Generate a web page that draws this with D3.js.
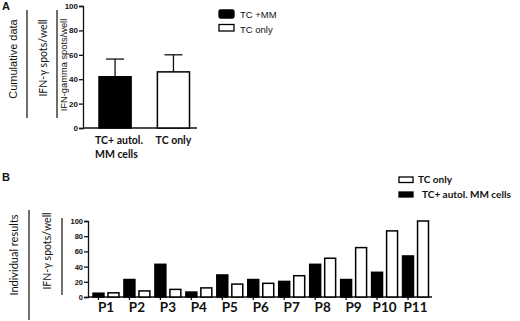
<!DOCTYPE html>
<html>
<head>
<meta charset="utf-8">
<script src="https://cdn.jsdelivr.net/npm/d3@7"></script>
<style>
  body { margin: 0; background: #fff; }
  svg { display: block; }
  text { fill: #111; }
</style>
</head>
<body>
<svg id="chart" width="520" height="321"></svg>
<script>
// Panel A - cumulative data
const cumCategories = ["TC+ autol.|MM cells", "TC only"];
const cumMeans = [42, 46];
const cumErrors = [14.5, 14];
const cumLegend = ["TC +MM", "TC only"];

// Panel B - individual results
const patients = ["P1", "P2", "P3", "P4", "P5", "P6", "P7", "P8", "P9", "P10", "P11"];
const tcMM = [5, 23, 43, 6.5, 29, 23, 20.5, 43, 23, 32.5, 54];
const tcOnly = [5.5, 8, 10, 12, 17, 18, 28, 51, 65, 87, 100];
const indivLegend = ["TC only", "TC+ autol. MM cells"];

const yTicks = [0, 20, 40, 60, 80, 100];

const svg = d3.select("#chart");
const sans = "'Liberation Sans', Arial, sans-serif";
const cal = "Lato, 'Open Sans', sans-serif";

// rotated label helper
function vlabel(x, y, txt, size, font, weight) {
    svg.append("text")
        .attr("transform", `translate(${x},${y}) rotate(-90)`)
        .attr("text-anchor", "middle")
        .attr("dominant-baseline", "central")
        .attr("font-family", font)
        .attr("font-size", size)
        .attr("font-weight", weight || "normal")
        .text(txt);
}
function vline(x, y1, y2, w) {
    svg.append("line")
        .attr("x1", x).attr("x2", x).attr("y1", y1).attr("y2", y2)
        .attr("stroke", "#222").attr("stroke-width", w || 1.3);
}

// ---------- A ----------
svg.append("text").attr("x", 2).attr("y", 10)
    .attr("font-family", sans).attr("font-weight", "bold").attr("font-size", 11)
    .text("A");

vlabel(13, 59, "Cumulative data", 11, sans);
vline(27, 10, 118);
vlabel(43, 58, "IFN-γ spots/well", 10.5, cal);
vline(57, 10, 118);
vlabel(64, 65, "IFN-gamma spots/well", 9.3, sans);

const yA = d3.scaleLinear().domain([0, 100]).range([128, 6]);
const xA = d3.scaleBand().domain(cumCategories).range([99, 189.5]).paddingInner(0.45);

const gA = svg.append("g");
gA.append("g")
    .attr("transform", "translate(83,0)")
    .call(d3.axisLeft(yA).tickValues(yTicks).tickSize(4).tickPadding(1))
    .call(g => g.selectAll("text").attr("font-family", sans).attr("font-size", 8).attr("font-weight", "bold"))
    .call(g => g.selectAll("path,line").attr("stroke", "#111").attr("stroke-width", 1.3));

gA.append("line")
    .attr("x1", 83).attr("x2", 197).attr("y1", yA(0)).attr("y2", yA(0))
    .attr("stroke", "#111").attr("stroke-width", 1.3);

// error bars
cumCategories.forEach((c, i) => {
    const cx = xA(c) + xA.bandwidth() / 2;
    gA.append("line")
        .attr("x1", cx).attr("x2", cx)
        .attr("y1", yA(cumMeans[i])).attr("y2", yA(cumMeans[i] + cumErrors[i]))
        .attr("stroke", "#111").attr("stroke-width", 1.3);
    gA.append("line")
        .attr("x1", cx - 9).attr("x2", cx + 9)
        .attr("y1", yA(cumMeans[i] + cumErrors[i])).attr("y2", yA(cumMeans[i] + cumErrors[i]))
        .attr("stroke", "#111").attr("stroke-width", 1.3);
});

gA.selectAll("rect.bar")
    .data(cumCategories)
    .enter()
    .append("rect")
    .attr("class", "bar")
    .attr("x", d => xA(d))
    .attr("y", (d, i) => yA(cumMeans[i]))
    .attr("width", xA.bandwidth())
    .attr("height", (d, i) => yA(0) - yA(cumMeans[i]))
    .attr("fill", (d, i) => i === 0 ? "#000" : "#fff")
    .attr("stroke", "#000").attr("stroke-width", 1.5);

// category labels
cumCategories.forEach(c => {
    const lines = c.split("|");
    const t = gA.append("text")
        .attr("x", c === "TC only" ? xA(c) + xA.bandwidth() / 2 : xA(c) - 4)
        .attr("y", 144)
        .attr("text-anchor", c === "TC only" ? "middle" : "start")
        .attr("font-family", cal).attr("font-weight", "bold").attr("font-size", 10.5);
    lines.forEach((l, j) => {
        t.append("tspan").attr("x", c === "TC only" ? xA(c) + xA.bandwidth() / 2 : xA(c) - 4)
            .attr("dy", j === 0 ? 0 : 14).text(l);
    });
});

// legend A
cumLegend.forEach((l, i) => {
    svg.append("rect")
        .attr("x", 219).attr("y", 10 + i * 14.5)
        .attr("width", 15).attr("height", i === 0 ? 8 : 6.5)
        .attr("rx", i === 0 ? 1.5 : 0)
        .attr("fill", i === 0 ? "#000" : "#fff")
        .attr("stroke", "#000").attr("stroke-width", 1.3);
    svg.append("text")
        .attr("x", 240).attr("y", 18 + i * 14.5)
        .attr("font-family", sans).attr("font-size", 9.5)
        .text(l);
});

// ---------- B ----------
svg.append("text").attr("x", 2).attr("y", 181)
    .attr("font-family", sans).attr("font-weight", "bold").attr("font-size", 11)
    .text("B");

vlabel(13, 255, "Individual results", 11, cal);
vline(29, 210, 320);
vlabel(47, 251, "IFN-γ spots/well", 10.5, cal);
vline(62, 218, 295);

const yB = d3.scaleLinear().domain([0, 100]).range([297, 221]);
const xB = d3.scaleBand().domain(patients).range([90.5, 431]).padding(0);
const xSub = d3.scaleBand().domain(["mm", "only"]).range([0, xB.bandwidth()])
    .paddingInner(0.27).paddingOuter(0.167);

const gB = svg.append("g");
gB.append("g")
    .attr("transform", "translate(88,0)")
    .call(d3.axisLeft(yB).tickValues(yTicks).tickSize(4).tickPadding(1))
    .call(g => g.selectAll("text").attr("font-family", sans).attr("font-size", 7.5).attr("font-weight", "bold"))
    .call(g => g.selectAll("path,line").attr("stroke", "#111").attr("stroke-width", 1.3));

gB.append("line")
    .attr("x1", 88).attr("x2", 432).attr("y1", yB(0)).attr("y2", yB(0))
    .attr("stroke", "#111").attr("stroke-width", 1.6);

// small ticks under the axis
gB.selectAll("line.tk")
    .data(patients)
    .enter()
    .append("line")
    .attr("class", "tk")
    .attr("x1", d => xB(d) + xSub("mm") + xSub.bandwidth() / 2)
    .attr("x2", d => xB(d) + xSub("mm") + xSub.bandwidth() / 2)
    .attr("y1", yB(0)).attr("y2", yB(0) + 3)
    .attr("stroke", "#111").attr("stroke-width", 1.3);

const series = [
    { key: "mm", values: tcMM, fill: "#000" },
    { key: "only", values: tcOnly, fill: "#fff" }
];
series.forEach(s => {
    gB.selectAll("rect.b" + s.key)
        .data(patients)
        .enter()
        .append("rect")
        .attr("class", "b" + s.key)
        .attr("x", d => xB(d) + xSub(s.key))
        .attr("y", (d, i) => yB(s.values[i]))
        .attr("width", xSub.bandwidth())
        .attr("height", (d, i) => yB(0) - yB(s.values[i]))
        .attr("fill", s.fill)
        .attr("stroke", "#000").attr("stroke-width", 1.5);
});

gB.selectAll("text.pl")
    .data(patients)
    .enter()
    .append("text")
    .attr("class", "pl")
    .attr("x", d => xB(d) + xB.bandwidth() / 2)
    .attr("y", 312)
    .attr("text-anchor", "middle")
    .attr("font-family", cal).attr("font-weight", "bold").attr("font-size", 13.5)
    .text(d => d);

// legend B
indivLegend.forEach((l, i) => {
    svg.append("rect")
        .attr("x", 399).attr("y", i === 0 ? 177 : 192)
        .attr("width", 14).attr("height", i === 0 ? 5.5 : 5)
        .attr("fill", i === 0 ? "#fff" : "#000")
        .attr("stroke", "#000").attr("stroke-width", 1.3);
    svg.append("text")
        .attr("x", i === 0 ? 418 : 422).attr("y", i === 0 ? 183 : 198)
        .attr("font-family", cal).attr("font-weight", "bold").attr("font-size", 10)
        .text(l);
});
</script>
</body>
</html>
